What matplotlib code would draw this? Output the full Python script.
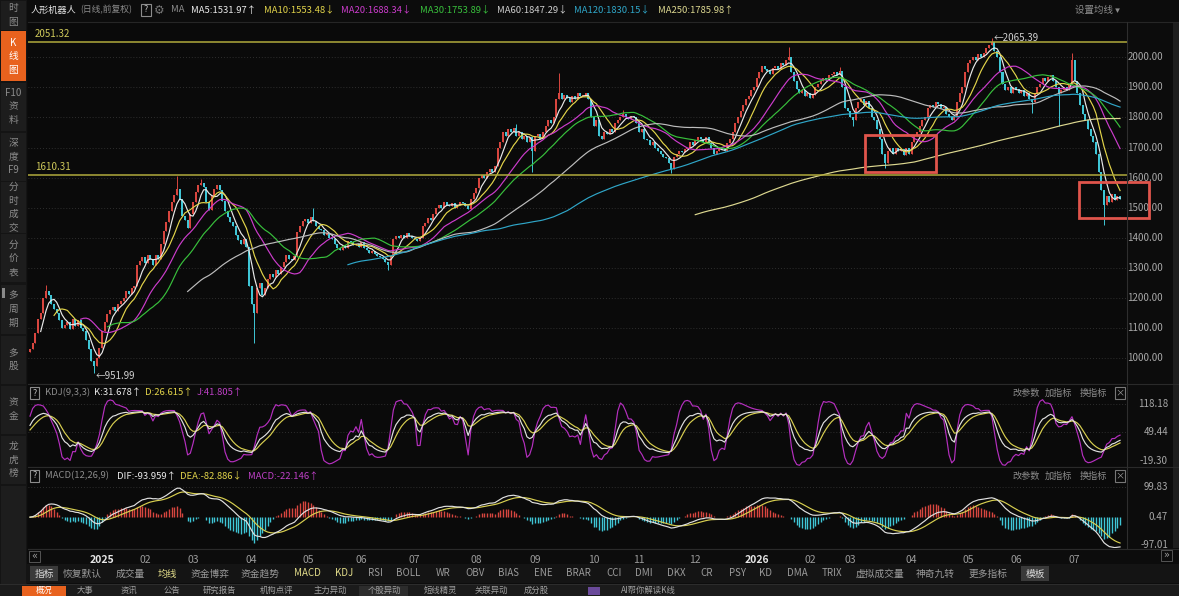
import numpy as np
import pandas as pd
import matplotlib
matplotlib.use('Agg')
import matplotlib.pyplot as plt
from matplotlib.patches import Rectangle
from matplotlib.lines import Line2D
from matplotlib.transforms import blended_transform_factory as blend

plt.rcParams['font.family'] = ['Noto Sans CJK SC', 'DejaVu Sans']
plt.rcParams['axes.unicode_minus'] = False

# ---------------- data (daily closes) ----------------
first_open = 1020
closes = [
    1030, 1050, 1085, 1130, 1150, 1200, 1225, 1210, 1180, 1165,
    1150, 1128, 1100, 1112, 1120, 1098, 1130, 1108, 1126, 1100,
    1090, 1062, 1030, 992, 975, 1002, 1035, 1090, 1120, 1148,
    1160, 1172, 1158, 1180, 1192, 1200, 1222, 1214, 1232, 1240,
    1310, 1322, 1338, 1318, 1342, 1330, 1310, 1342, 1330, 1380,
    1422, 1452, 1490, 1520, 1542, 1562, 1530, 1472, 1458, 1432,
    1480, 1520, 1552, 1575, 1582, 1570, 1520, 1492, 1540, 1562,
    1576, 1560, 1522, 1490, 1470, 1452, 1440, 1410, 1392, 1380,
    1395, 1370, 1240, 1180, 1150, 1232, 1250, 1210, 1232, 1262,
    1280, 1270, 1292, 1280, 1302, 1320, 1342, 1330, 1325, 1340,
    1420, 1440, 1455, 1462, 1450, 1470, 1455, 1440, 1430, 1425,
    1410, 1415, 1400, 1395, 1380, 1368, 1360, 1375, 1365, 1390,
    1385, 1375, 1380, 1370, 1385, 1365, 1360, 1350, 1355, 1345,
    1340, 1335, 1330, 1320, 1310, 1340, 1395, 1405, 1400, 1410,
    1400, 1415, 1405, 1400, 1395, 1390, 1400, 1440, 1450, 1465,
    1460, 1480, 1500, 1510, 1500, 1520, 1510, 1505, 1515, 1500,
    1510, 1520, 1515, 1505, 1495, 1530, 1550, 1565, 1600, 1610,
    1600, 1620, 1630, 1620, 1640, 1700, 1720, 1750, 1740, 1760,
    1750, 1765, 1740, 1750, 1730, 1740, 1720, 1735, 1690, 1740,
    1745, 1730, 1750, 1770, 1790, 1780, 1800, 1860, 1880, 1860,
    1875, 1865, 1850, 1870, 1860, 1880, 1870, 1875, 1880, 1860,
    1800, 1770, 1790, 1740, 1730, 1750, 1745, 1760, 1750, 1780,
    1790, 1800, 1810, 1800, 1795, 1805, 1800, 1780, 1750, 1760,
    1730, 1725, 1710, 1720, 1700, 1690, 1680, 1670, 1665, 1650,
    1630, 1670, 1680, 1690, 1685, 1695, 1700, 1720, 1710, 1725,
    1735, 1730, 1720, 1735, 1715, 1700, 1680, 1690, 1700, 1695,
    1690, 1715, 1730, 1750, 1780, 1800, 1820, 1840, 1860, 1870,
    1890, 1900, 1930, 1950, 1970, 1960, 1955, 1945, 1965, 1970,
    1960, 1980, 1975, 1990, 2000, 1950, 1920, 1895, 1880, 1890,
    1870, 1880, 1865, 1875, 1900, 1910, 1920, 1930, 1925, 1940,
    1945, 1950, 1940, 1955, 1900, 1830, 1820, 1800, 1790, 1830,
    1850, 1860, 1840, 1855, 1830, 1800, 1790, 1760, 1730, 1680,
    1650, 1690, 1700, 1680, 1700, 1690, 1695, 1675, 1700, 1680,
    1720, 1740, 1750, 1770, 1790, 1800, 1830, 1840, 1835, 1850,
    1845, 1830, 1835, 1810, 1800, 1790, 1800, 1850, 1880, 1900,
    1950, 1980, 1990, 2000, 1990, 2010, 2000, 2015, 2030, 2040,
    2050, 2020, 2000, 1950, 1910, 1890, 1900, 1880, 1900, 1895,
    1880, 1890, 1870, 1880, 1860, 1850, 1880, 1900, 1910, 1930,
    1920, 1935, 1940, 1920, 1900, 1880, 1890, 1900, 1890, 1910,
    1990, 1920, 1880, 1840, 1810, 1790, 1760, 1740, 1720, 1680,
    1620, 1560, 1510, 1540, 1520, 1545, 1525, 1540, 1530,
]
# notable wicks (day index -> price)
wick_high = {6: 1244, 55: 1604, 64: 1595, 106: 1498, 182: 1778, 198: 1947,
             222: 1825, 284: 2035, 303: 1968, 360: 2065.39, 390: 2015}
wick_low = {24: 951.99, 84: 1050, 134: 1294, 188: 1620, 240: 1615,
            308: 1770, 320: 1631, 375: 1814, 385: 1770, 402: 1443}

ma_periods = [5, 10, 20, 30, 60, 120, 250]
ma_colors = ['#e8e8e8', '#e2d44a', '#cc3ccc', '#38c03c', '#bdbdbd', '#2fa6c8', '#ddd890']

month_idx = [27, 43, 61, 83, 104, 124, 144, 167, 189, 211, 228, 249,
             272, 292, 307, 330, 351, 369, 391]
month_lbl = ['2025', '02', '03', '04', '05', '06', '07', '08', '09', '10', '11', '12',
             '2026', '02', '03', '04', '05', '06', '07']

level_lines = [2051.32, 1610.31]
price_ticks = [1000, 1100, 1200, 1300, 1400, 1500, 1600, 1700, 1800, 1900, 2000]
# highlight boxes: (day_from, day_to, price_low, price_high)
boxes = [(312.5, 339, 1619, 1742), (392.5, 419, 1466, 1586)]

kdj_ticks = [118.18, 49.44, -19.30]
macd_ticks = [99.83, 0.47, -97.01]

# ---------------- derived series ----------------
c = np.array(closes, dtype=float)
o = np.r_[first_open, c[:-1]]
h = np.maximum(o, c)
l = np.minimum(o, c)
for k, v in wick_high.items():
    h[k] = max(h[k], v)
for k, v in wick_low.items():
    l[k] = min(l[k], v)
n = len(c)
xs = np.arange(n)
s = pd.Series(c)

low9 = pd.Series(l).rolling(9, min_periods=1).min().values
high9 = pd.Series(h).rolling(9, min_periods=1).max().values
rng = np.where(high9 > low9, high9 - low9, 1)
rsv = np.where(high9 > low9, (c - low9) / rng * 100, 50)
K = np.zeros(n); D = np.zeros(n)
kp, dp = 50.0, 50.0
for i in range(n):
    kp = 2 / 3 * kp + rsv[i] / 3
    dp = 2 / 3 * dp + kp / 3
    K[i], D[i] = kp, dp
J = 3 * K - 2 * D

dif = (s.ewm(span=12, adjust=False).mean() - s.ewm(span=26, adjust=False).mean()).values
dea = pd.Series(dif).ewm(span=9, adjust=False).mean().values
macd = 2 * (dif - dea)

# ---------------- figure ----------------
W, H = 1179, 596
fig = plt.figure(figsize=(W / 100, H / 100), dpi=100, facecolor='#0c0c0c')


def frect(x0, y0, x1, y1):
    return [x0 / W, 1 - y1 / H, (x1 - x0) / W, (y1 - y0) / H]


def prect(x0, y0, x1, y1, **kw):
    fig.add_artist(Rectangle((x0 / W, 1 - y1 / H), (x1 - x0) / W, (y1 - y0) / H,
                             transform=fig.transFigure, **kw))


def ptext(x, y, t, **kw):
    kw.setdefault('va', 'center')
    kw.setdefault('fontsize', 6.8)
    fig.text(x / W, 1 - y / H, t, **kw)


def pline(x0, y0, x1, y1, **kw):
    fig.add_artist(Line2D([x0 / W, x1 / W], [1 - y0 / H, 1 - y1 / H],
                          transform=fig.transFigure, **kw))


XL, XR = 28, 1127
ax = fig.add_axes(frect(XL, 22, XR, 383))
axk = fig.add_axes(frect(XL, 385, XR, 466))
axm = fig.add_axes(frect(XL, 468, XR, 548))
for a in (ax, axk, axm):
    a.set_facecolor('#0a0a0a')
    for sp in a.spines.values():
        sp.set_visible(False)
    a.set_xticks([]); a.set_yticks([])
    a.set_xlim(-0.75, n - 1 + 2.6)

UP, DN = '#d8463f', '#3fc6d6'

# ---- main candles ----
ax.set_ylim(918, 2117)
for p in price_ticks:
    ax.axhline(p, color='#3a3a3a', lw=0.6, ls=(0, (1, 2.5)), zorder=0)
up = c >= o
col = np.where(up, UP, DN)
ax.vlines(xs, l, h, colors=col, lw=0.7, zorder=2)
ax.bar(xs, np.maximum(np.abs(c - o), 2.0), bottom=np.minimum(o, c), width=0.75,
       color=col, linewidth=0, zorder=3)
for p, colr in zip(ma_periods, ma_colors):
    ax.plot(xs, s.rolling(p).mean().values, color=colr, lw=0.85, zorder=4)
for lv in level_lines:
    ax.axhline(lv, color='#b0aa3c', lw=1.1, zorder=5)
    ax.text(0.006, lv + 8, f'{lv:.2f}', transform=blend(ax.transAxes, ax.transData),
            color='#cfc95a', fontsize=7.0, va='bottom', ha='left')
for d0, d1, p0, p1 in boxes:
    ax.add_patch(Rectangle((d0, p0), d1 - d0, p1 - p0, fill=False, ec='#e0554c',
                           lw=2.0, clip_on=False, zorder=6))
il = int(np.argmin(l)); ih = int(np.argmax(h))
ax.annotate(f'←{l[il]:.2f}', xy=(il, l[il]), xytext=(1, -2), textcoords='offset points',
            color='#d0d0d0', fontsize=7.0, va='center', ha='left')
ax.annotate(f'←{h[ih]:.2f}', xy=(ih, h[ih]), xytext=(1, 0), textcoords='offset points',
            color='#d0d0d0', fontsize=7.0, va='center', ha='left')
tr = blend(fig.transFigure, ax.transData)
for p in price_ticks:
    ax.text(1163 / W, p, f'{p:.2f}', transform=tr, ha='right', va='center',
            color='#a8a8a8', fontsize=7.0, clip_on=False)

# ---- KDJ ----
axk.set_ylim(-31.4, 164)
for t in kdj_ticks[:2]:
    axk.axhline(t, color='#3a3a3a', lw=0.6, ls=(0, (1, 2.5)), zorder=0)
axk.plot(xs, J, color='#b52fbf', lw=0.85)
axk.plot(xs, D, color='#d8cf50', lw=0.85)
axk.plot(xs, K, color='#e0e0e0', lw=0.85)
trk = blend(fig.transFigure, axk.transData)
for t in kdj_ticks:
    axk.text(1168 / W, t, f'{t:.2f}', transform=trk, ha='right', va='center',
             color='#a8a8a8', fontsize=7.0, clip_on=False)

# ---- MACD ----
axm.set_ylim(-101, 161)
axm.axhline(macd_ticks[0], color='#3a3a3a', lw=0.6, ls=(0, (1, 2.5)), zorder=0)
axm.vlines(xs, 0, macd, colors=np.where(macd >= 0, UP, DN), lw=1.0)
axm.plot(xs, dea, color='#d8cf50', lw=0.85)
axm.plot(xs, dif, color='#e0e0e0', lw=0.85)
trm = blend(fig.transFigure, axm.transData)
for t in macd_ticks:
    axm.text(1168 / W, max(t, -90), f'{t:.2f}', transform=trm, ha='right', va='center',
             color='#a8a8a8', fontsize=7.0, clip_on=False)

# ---- date axis ----
trd = blend(axm.transData, fig.transFigure)
for d, lb in zip(month_idx, month_lbl):
    big = len(lb) == 4
    axm.text(d, 1 - 560 / H, lb, transform=trd, ha='center', va='center',
             color='#e6e6e6' if big else '#9a9a9a', fontsize=7.5,
             fontweight='bold' if big else 'normal', clip_on=False)

# ---------------- UI chrome ----------------
pline(XL, 22, W, 22, color='#262626', lw=0.8)
pline(XL, 384, W, 384, color='#2a2a2a', lw=0.8)
pline(XL, 467, W, 467, color='#2a2a2a', lw=0.8)
pline(XL, 548.5, W, 548.5, color='#2a2a2a', lw=0.8)
pline(XR, 22, XR, 548, color='#2e2e2e', lw=0.8)
prect(1173, 22, 1179, 548, color='#1e1e1e', lw=0)

# left sidebar
prect(0, 0, 27, 596, color='#141414', lw=0)
tabs = [(0, 30, ['时', '图']), (31, 81, ['K', '线', '图']), (82, 131, ['F10', '资', '料']),
        (132, 181, ['深', '度', 'F9']), (182, 233, ['分', '时', '成', '交']),
        (234, 283, ['分', '价', '表']), (284, 334, ['多', '周', '期']),
        (335, 384, ['多', '股']), (385, 434, ['资', '金']), (435, 484, ['龙', '虎', '榜']),
        (485, 596, [])]
for i, (y0, y1, chars) in enumerate(tabs):
    active = i == 1
    prect(1, y0 + 0.5, 26, y1 - 0.5, color='#e8621e' if active else '#1d1d1d', lw=0)
    yc = (y0 + y1) / 2
    m = len(chars)
    for j, ch in enumerate(chars):
        ptext(13.5, yc + (j - (m - 1) / 2) * 13.5, ch, ha='center',
              color='#ffffff' if active else '#8c8c8c', fontsize=7.0)
prect(2, 288, 5, 298, color='#8a8a8a', lw=0)

# header
hdr_y = 10
ptext(31, hdr_y, '人形机器人', color='#e6e6e6', fontsize=6.6)
ptext(80, hdr_y, '(日线,前复权)', color='#8c8c8c', fontsize=6.3)
prect(141, 4, 151, 16, fill=False, ec='#8c8c8c', lw=0.8)
ptext(146, hdr_y, '?', ha='center', color='#bbbbbb', fontsize=6.5)
ptext(159, hdr_y, '⚙', ha='center', color='#777777', fontsize=8.5, family='DejaVu Sans')
ptext(171, hdr_y, 'MA', color='#8c8c8c')
hdr_items = [(191, 'MA5:1531.97↑', '#ececec'), (264, 'MA10:1553.48↓', '#e2d44a'),
             (341, 'MA20:1688.34↓', '#cc3ccc'), (420, 'MA30:1753.89↓', '#38c03c'),
             (497, 'MA60:1847.29↓', '#cfcfcf'), (574, 'MA120:1830.15↓', '#2fa6c8'),
             (658, 'MA250:1785.98↑', '#ddd890')]
for x, t, colr in hdr_items:
    ptext(x, hdr_y, t, color=colr)
ptext(1075, hdr_y, '设置均线 ▾', color='#8c8c8c')

# indicator headers
for yy, items in [(393, [(45, 'KDJ(9,3,3)', '#8c8c8c'), (94, 'K:31.678↑', '#ececec'),
                         (145, 'D:26.615↑', '#e2d44a'), (197, 'J:41.805↑', '#c040c8')]),
                  (476, [(45, 'MACD(12,26,9)', '#8c8c8c'), (117, 'DIF:-93.959↑', '#ececec'),
                         (180, 'DEA:-82.886↓', '#e2d44a'), (248, 'MACD:-22.146↑', '#c040c8')])]:
    prect(30, yy - 6, 39, yy + 6, fill=False, ec='#8c8c8c', lw=0.8)
    ptext(34.5, yy, '?', ha='center', color='#bbbbbb', fontsize=6.5)
    for x, t, colr in items:
        ptext(x, yy, t, color=colr)
    for x, t in [(1012, '改参数'), (1045, '加指标'), (1080, '换指标')]:
        ptext(x, yy, t, color='#8c8c8c', fontsize=6.6)
    prect(1115, yy - 6, 1125, yy + 6, fill=False, ec='#777777', lw=0.8)
    ptext(1120, yy, '×', ha='center', color='#9a9a9a', fontsize=6.6)

# scroll arrows
prect(29, 551, 40, 562, fill=False, ec='#555555', lw=0.7)
ptext(34.5, 556, '«', ha='center', color='#9a9a9a', fontsize=7, family='DejaVu Sans')
prect(1161, 550, 1172, 561, fill=False, ec='#555555', lw=0.7)
ptext(1166.5, 555, '»', ha='center', color='#9a9a9a', fontsize=7, family='DejaVu Sans')

# indicator toolbar
prect(27, 564, W, 583, color='#141414', lw=0)
prect(30, 566, 58, 581, color='#3a3a3a', lw=0)
ptext(44, 573.5, '指标', ha='center', color='#d8d8d8', fontsize=7.0)
prect(1021, 566, 1049, 581, color='#3a3a3a', lw=0)
ptext(1035, 573.5, '模板', ha='center', color='#d8d8d8', fontsize=7.0)
toolbar = [('恢复默认', 82), ('成交量', 130), ('均线', 167), ('资金博弈', 210), ('资金趋势', 260),
           ('MACD', 307), ('KDJ', 344), ('RSI', 375), ('BOLL', 408), ('WR', 443), ('OBV', 475),
           ('BIAS', 509), ('ENE', 543), ('BRAR', 578), ('CCI', 614), ('DMI', 644), ('DKX', 676),
           ('CR', 707), ('PSY', 737), ('KD', 766), ('DMA', 797), ('TRIX', 832),
           ('虚拟成交量', 880), ('神奇九转', 935), ('更多指标', 988)]
for t, x in toolbar:
    hl = t in ('均线', 'MACD', 'KDJ')
    ptext(x, 573.5, t, ha='center', color='#e2dc8a' if hl else '#9a9a9a', fontsize=7.0)

# bottom tabs
prect(0, 584, W, 596, color='#1b1b1b', lw=0)
pline(0, 584, W, 584, color='#2c2c2c', lw=0.8)
prect(22, 586, 66, 596, color='#e8621e', lw=0)
prect(359, 586, 408, 596, color='#2c2c2c', lw=0)
bottom_tabs = [('概况', 44), ('大事', 85), ('资讯', 129), ('公告', 172), ('研究报告', 219),
               ('机构点评', 277), ('主力异动', 330), ('个股异动', 384), ('短线精灵', 440),
               ('关联异动', 491), ('成分股', 536), ('AI帮你解读K线', 648)]
for t, x in bottom_tabs:
    ptext(x, 590.5, t, ha='center', color='#ffffff' if x == 44 else '#a0a0a0', fontsize=6.0)
prect(588, 587, 600, 595, color='#6a4a9a', lw=0)

fig.savefig('out.png', dpi=100, facecolor=fig.get_facecolor())
